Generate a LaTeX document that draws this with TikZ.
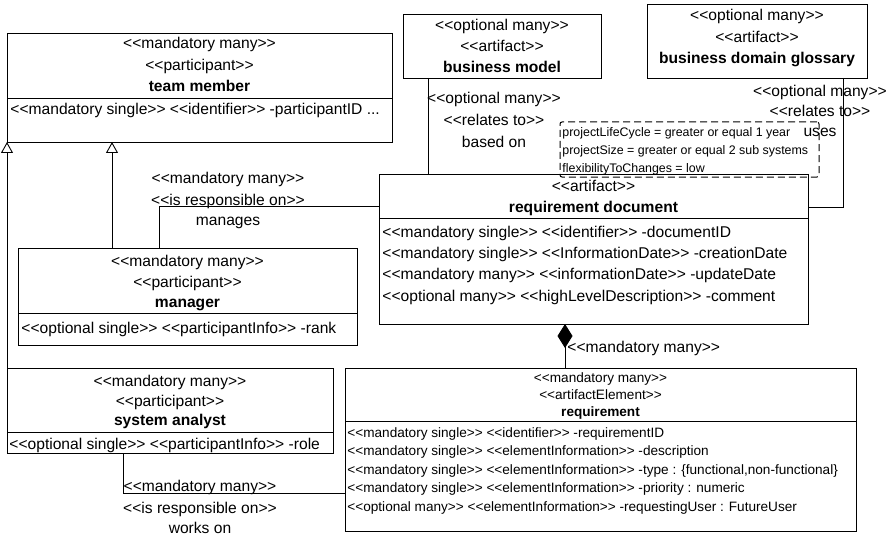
\documentclass[tikz,border=0pt]{standalone}
\usepackage{fontspec}
\setmainfont{Liberation Sans}[Ligatures=TeXOff]
\usetikzlibrary{arrows.meta}
\begin{document}
\begin{tikzpicture}[x=1pt,y=-1pt,line width=0.9pt,
  classbox/.style={draw, rectangle, anchor=north west, inner sep=0pt, outer sep=0pt},
  txt/.style={inner sep=0pt, font=\fontsize{15.6}{18}\selectfont, text height=11pt, text depth=3pt},
  hdr/.style={txt, anchor=center},
  attr/.style={txt, anchor=west},
  clsname/.style={hdr, font=\fontsize{15.6}{18}\selectfont\bfseries},
  rqtxt/.style={font=\fontsize{13.6}{16}\selectfont, text height=9.6pt, text depth=2.7pt},
  rqname/.style={font=\fontsize{13.6}{16}\selectfont\bfseries, text height=9.6pt, text depth=2.7pt},
  notetxt/.style={txt, anchor=west, font=\fontsize{12.4}{15}\selectfont, text height=8.8pt, text depth=2.5pt},
  notebox/.style={draw, line width=1pt, dash pattern=on 7pt off 4pt, rounded corners=2pt, anchor=north west, inner sep=0pt, outer sep=0pt},
  gen/.style={-{Triangle[open,length=11pt,width=12pt]}},
  comp/.style={-{Diamond[length=24pt,width=15pt]}},
  lbl/.style={txt, anchor=center},
]
\useasboundingbox (0,0) rectangle (890,540);

% ---- team member ----
\node[classbox, minimum width=385pt, minimum height=109pt] (tm) at (7,33) {};
\node[hdr] (tm-1) at ([yshift=-12pt]tm.north) {<<mandatory many>>};
\node[hdr] (tm-2) at ([yshift=-34pt]tm.north) {<<participant>>};
\node[clsname] (tm-3) at ([yshift=-55pt]tm.north) {team member};
\draw ([yshift=-65pt]tm.north west) -- ([yshift=-65pt]tm.north east);
\node[attr] (tm-a1) at ([xshift=3pt,yshift=-78pt]tm.north west) {<<mandatory single>> <<identifier>> -participantID ...};

% ---- business model ----
\node[classbox, minimum width=198pt, minimum height=64pt] (bm) at (403,14) {};
\node[hdr] (bm-1) at ([yshift=-13pt]bm.north) {<<optional many>>};
\node[hdr] (bm-2) at ([yshift=-34pt]bm.north) {<<artifact>>};
\node[clsname] (bm-3) at ([yshift=-55pt]bm.north) {business model};

% ---- business domain glossary ----
\node[classbox, minimum width=220pt, minimum height=74pt] (gl) at (647,4) {};
\node[hdr] (gl-1) at ([yshift=-13pt]gl.north) {<<optional many>>};
\node[hdr] (gl-2) at ([yshift=-35pt]gl.north) {<<artifact>>};
\node[clsname] (gl-3) at ([yshift=-56pt]gl.north) {business domain glossary};

% ---- constraint note ----
\node[notebox, minimum width=259pt, minimum height=55pt] (nt) at (560,122) {};
\node[notetxt] (nt-1) at ([xshift=2pt,yshift=-11pt]nt.north west) {projectLifeCycle = greater or equal 1 year};
\node[notetxt] (nt-2) at ([xshift=2pt,yshift=-29pt]nt.north west) {projectSize = greater or equal 2 sub systems};
\node[notetxt] (nt-3) at ([xshift=2pt,yshift=-47pt]nt.north west) {flexibilityToChanges = low};

% ---- requirement document ----
\node[classbox, minimum width=429pt, minimum height=150pt] (rd) at (379,174) {};
\node[hdr] (rd-1) at ([yshift=-13pt]rd.north) {<<artifact>>};
\node[clsname] (rd-2) at ([yshift=-34pt]rd.north) {requirement document};
\draw ([yshift=-44pt]rd.north west) -- ([yshift=-44pt]rd.north east);
\node[attr] (rd-a1) at ([xshift=3pt,yshift=-59pt]rd.north west) {<<mandatory single>> <<identifier>> -documentID};
\node[attr] (rd-a2) at ([xshift=3pt,yshift=-80pt]rd.north west) {<<mandatory single>> <<InformationDate>> -creationDate};
\node[attr] (rd-a3) at ([xshift=3pt,yshift=-101pt]rd.north west) {<<mandatory many>> <<informationDate>> -updateDate};
\node[attr] (rd-a4) at ([xshift=3pt,yshift=-123pt]rd.north west) {<<optional many>> <<highLevelDescription>> -comment};

% ---- manager ----
\node[classbox, minimum width=339pt, minimum height=97pt] (mg) at (18,248) {};
\node[hdr] (mg-1) at ([yshift=-14pt]mg.north) {<<mandatory many>>};
\node[hdr] (mg-2) at ([yshift=-35pt]mg.north) {<<participant>>};
\node[clsname] (mg-3) at ([yshift=-55pt]mg.north) {manager};
\draw ([yshift=-65pt]mg.north west) -- ([yshift=-65pt]mg.north east);
\node[attr] (mg-a1) at ([xshift=3pt,yshift=-81pt]mg.north west) {<<optional single>> <<participantInfo>> -rank};

% ---- system analyst ----
\node[classbox, minimum width=326pt, minimum height=85pt] (sa) at (7,368) {};
\node[hdr] (sa-1) at ([yshift=-14pt]sa.north) {<<mandatory many>>};
\node[hdr] (sa-2) at ([yshift=-34pt]sa.north) {<<participant>>};
\node[clsname] (sa-3) at ([yshift=-53pt]sa.north) {system analyst};
\draw ([yshift=-64pt]sa.north west) -- ([yshift=-64pt]sa.north east);
\node[attr] (sa-a1) at ([xshift=2pt,yshift=-77pt]sa.north west) {<<optional single>> <<participantInfo>> -role};

% ---- requirement ----
\node[classbox, minimum width=511pt, minimum height=163pt] (rq) at (345,368) {};
\node[hdr, rqtxt] (rq-1) at ([yshift=-11pt]rq.north) {<<mandatory many>>};
\node[hdr, rqtxt] (rq-2) at ([yshift=-28pt]rq.north) {<<artifactElement>>};
\node[hdr, rqname] (rq-3) at ([yshift=-45pt]rq.north) {requirement};
\draw ([yshift=-53pt]rq.north west) -- ([yshift=-53pt]rq.north east);
\node[attr, rqtxt] (rq-a1) at ([xshift=2pt,yshift=-66pt]rq.north west) {<<mandatory single>> <<identifier>> -requirementID};
\node[attr, rqtxt] (rq-a2) at ([xshift=2pt,yshift=-84pt]rq.north west) {<<mandatory single>> <<elementInformation>> -description};
\node[attr, rqtxt] (rq-a3) at ([xshift=2pt,yshift=-103pt]rq.north west) {<<mandatory single>> <<elementInformation>> -type : \{functional,non-functional\}};
\node[attr, rqtxt] (rq-a4) at ([xshift=2pt,yshift=-121pt]rq.north west) {<<mandatory single>> <<elementInformation>> -priority : numeric};
\node[attr, rqtxt] (rq-a5) at ([xshift=2pt,yshift=-140pt]rq.north west) {<<optional many>> <<elementInformation>> -requestingUser : FutureUser};

% ---- connectors ----
\coordinate (genx) at (112,0);
\draw[gen] (sa.north west) -- (tm.south west);
\draw[gen] (mg.north -| genx) -- (tm.south -| genx);

\coordinate (mgbend) at (159,206);
\draw (mg.north -| mgbend) |- (rd.west |- mgbend);

\coordinate (wobend) at (123,493);
\draw (sa.south -| wobend) |- (rq.west |- wobend);

\coordinate (bmx) at (428,0);
\draw (bm.south -| bmx) -- (rd.north -| bmx);

\coordinate (usbend) at (843,207);
\draw (gl.south -| usbend) |- (rd.east |- usbend);

\coordinate (cmx) at (565,0);
\draw[comp] (rq.north -| cmx) -- (rd.south -| cmx);

% ---- association labels ----
\node[lbl] (bo-1) at (494,100) {<<optional many>>};
\node[lbl] (bo-2) at (494,122) {<<relates to>>};
\node[lbl] (bo-3) at (494,143) {based on};

\node[lbl] (us-1) at (820,93) {<<optional many>>};
\node[lbl] (us-2) at (820,113) {<<relates to>>};
\node[lbl] (us-3) at (820,133) {uses};

\node[lbl] (ma-1) at (228,179) {<<mandatory many>>};
\node[lbl] (ma-2) at (228,201) {<<is responsible on>>};
\node[lbl] (ma-3) at (228,221) {manages};

\node[lbl] (wo-1) at (200,487) {<<mandatory many>>};
\node[lbl] (wo-2) at (200,509) {<<is responsible on>>};
\node[lbl] (wo-3) at (200,529) {works on};

\node[txt, anchor=west] (cm-1) at (567,348) {<<mandatory many>>};
\end{tikzpicture}
\end{document}
